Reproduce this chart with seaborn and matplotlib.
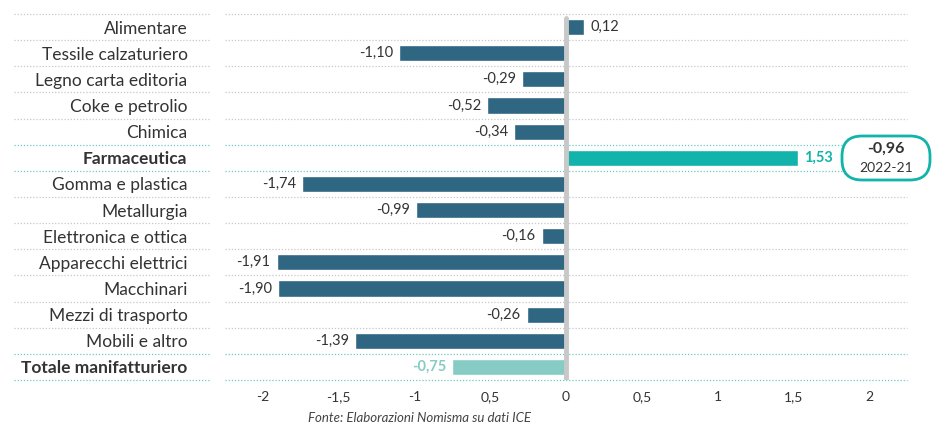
import pandas as pd
import seaborn as sns
import matplotlib.pyplot as plt
from matplotlib.patches import FancyBboxPatch

settori = ['Alimentare', 'Tessile calzaturiero', 'Legno carta editoria', 'Coke e petrolio',
           'Chimica', 'Farmaceutica', 'Gomma e plastica', 'Metallurgia',
           'Elettronica e ottica', 'Apparecchi elettrici', 'Macchinari',
           'Mezzi di trasporto', 'Mobili e altro', 'Totale manifatturiero']
variazioni = [0.12, -1.10, -0.29, -0.52, -0.34, 1.53, -1.74, -0.99,
              -0.16, -1.91, -1.90, -0.26, -1.39, -0.75]
tick_pos = [-2, -1.5, -1, -0.5, 0, 0.5, 1, 1.5, 2]
tick_lab = ['-2', '-1,5', '-1', '0,5', '0', '0,5', '1', '1,5', '2']
badge_val = '-0,96'
badge_sub = '2022-21'

BLU = '#2f6682'
TEAL = '#12b3ab'
TEAL_CHIARO = '#86cbc4'
colori = {s: BLU for s in settori}
colori['Farmaceutica'] = TEAL
colori['Totale manifatturiero'] = TEAL_CHIARO
evidenziati = ['Farmaceutica', 'Totale manifatturiero']

df = pd.DataFrame({'settore': settori, 'var': variazioni})

sns.set_style('white')
plt.rcParams['font.family'] = ['Lato', 'DejaVu Sans']

W, H = 932, 426
fig = plt.figure(figsize=(W / 100, H / 100), dpi=100)
ax = fig.add_axes([225 / W, 1 - 380 / H, 682 / W, 366 / H])

sns.barplot(data=df, y='settore', x='var', hue='settore', palette=colori,
            orient='h', width=0.62, saturation=1, legend=False, ax=ax, zorder=2)

ax.set_xlim(-2.25, 2.25)
ax.set_ylim(len(settori) - 0.5, -0.5)
ax.axvline(0, ymax=0.99, color='#c8c8c8', lw=3.5, zorder=3)

# separatori di riga tratteggiati (anche sotto le etichette)
bordi_teal = set()
for s in evidenziati:
    k = settori.index(s)
    bordi_teal.update([k - 0.5, k + 0.5])
for i in range(len(settori) + 1):
    y = i - 0.5
    col = '#6fc9c2' if y in bordi_teal else '#c8c8c8'
    for x0, x1 in [(-0.309, -0.022), (0, 1)]:
        ax.plot([x0, x1], [y, y], transform=ax.get_yaxis_transform(), color=col,
                lw=0.9, ls=(0, (1, 1.5)), clip_on=False, zorder=1)

# etichette valori
for i, (s, v) in enumerate(zip(settori, variazioni)):
    testo = f'{v:.2f}'.replace('.', ',')
    if s == 'Farmaceutica':
        c, w = TEAL, 'bold'
    elif s == 'Totale manifatturiero':
        c, w = TEAL_CHIARO, 'bold'
    else:
        c, w = '#333333', 'normal'
    off = 0.04 if v > 0 else -0.04
    ax.text(v + off, i, testo, ha='left' if v > 0 else 'right', va='center',
            fontsize=10.5, color=c, fontweight=w, zorder=4)

ax.set_xticks(tick_pos)
ax.set_xticklabels(tick_lab)
ax.tick_params(axis='x', length=0, pad=8, labelsize=10, labelcolor='#333333')
ax.tick_params(axis='y', length=0, pad=27, labelsize=12.5, labelcolor='#333333')
for lab in ax.get_yticklabels():
    if lab.get_text() in evidenziati:
        lab.set_fontweight('bold')
ax.set_xlabel('')
ax.set_ylabel('')
sns.despine(ax=ax, left=True, bottom=True)

# riquadro con la variazione complessiva (in pixel, su un asse trasparente)
ov = fig.add_axes([0, 0, 1, 1], zorder=10)
ov.set_xlim(0, W)
ov.set_ylim(H, 0)
ov.axis('off')
ov.patch.set_alpha(0)
bx0, by0, bw, bh = 842, 136, 88, 44
ov.add_patch(FancyBboxPatch((bx0, by0), bw, bh,
                            boxstyle='round,pad=0,rounding_size=20',
                            fc='white', ec=TEAL, lw=2))
ov.text(bx0 + bw / 2, 149, badge_val, ha='center', va='center',
        fontsize=11.5, fontweight='bold', color='#333333')
ov.text(bx0 + bw / 2, 168, badge_sub, ha='center', va='center',
        fontsize=10, color='#333333')

fig.text(420 / W, 1 - 418 / H, 'Fonte: Elaborazioni Nomisma su dati ICE', ha='center',
         va='center', fontsize=9.5, style='italic', color='#444444')

fig.savefig('out.png', dpi=100)
